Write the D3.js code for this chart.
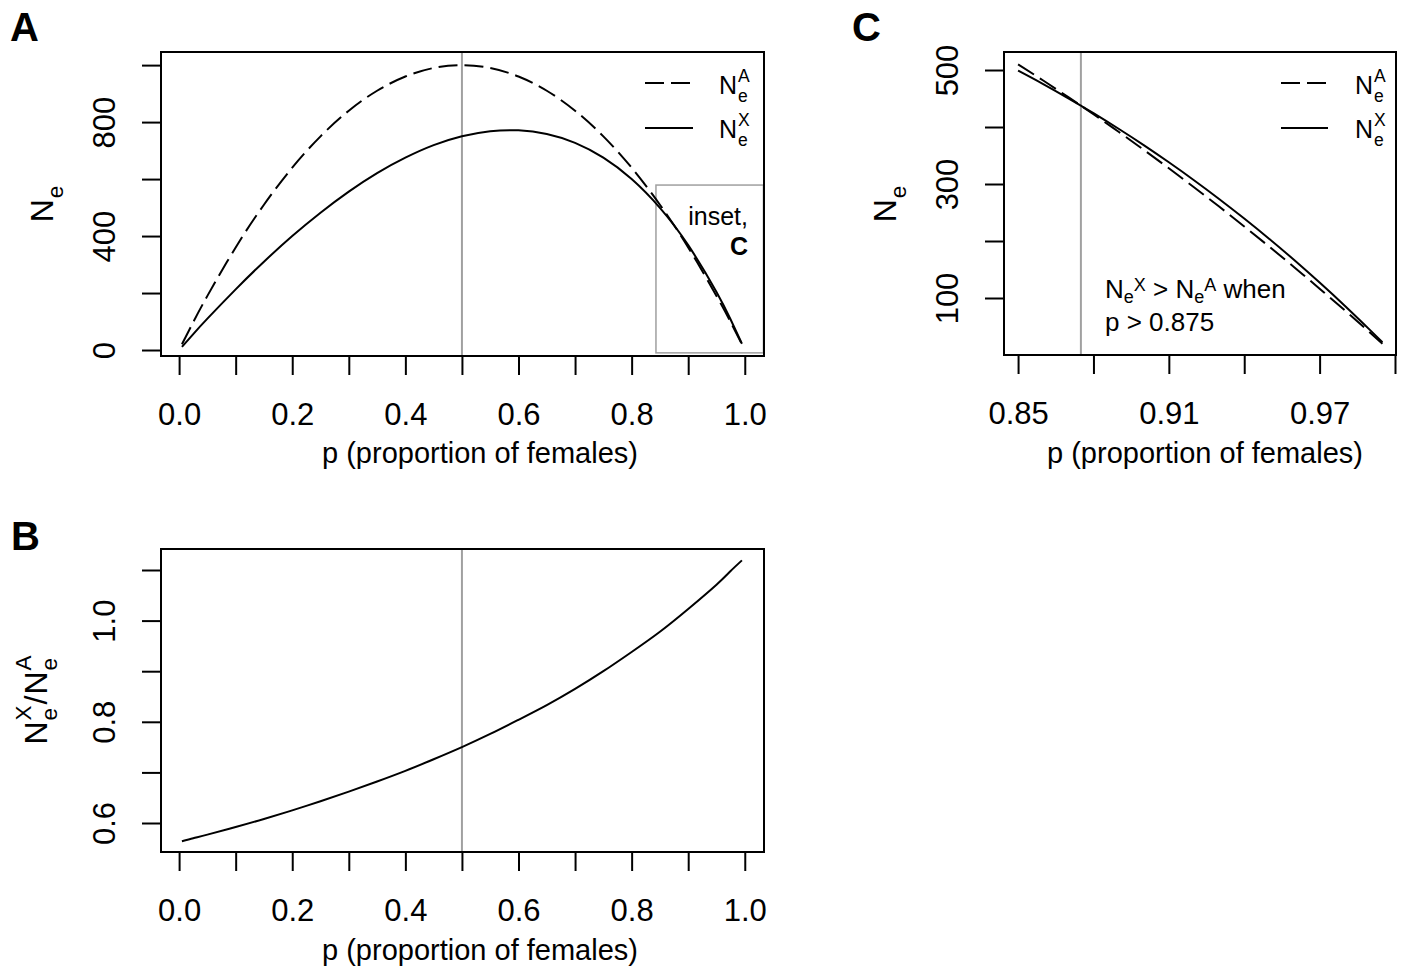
<!DOCTYPE html>
<html>
<head>
<meta charset="utf-8">
<script src="https://cdn.jsdelivr.net/npm/d3@7"></script>
<style>
  body { margin: 0; background: #fff; }
  svg { display: block; font-family: "Liberation Sans", Arial, Helvetica, sans-serif; }
</style>
</head>
<body>
<svg id="chart" width="1401" height="968"></svg>
<script>
const pFull = [0.005, 0.025, 0.05, 0.1, 0.15, 0.2, 0.25, 0.3, 0.35, 0.4, 0.45, 0.5, 0.55, 0.6, 0.65, 0.7, 0.75, 0.8, 0.85, 0.9, 0.95, 0.975, 0.995];
const neAuto = [20, 98, 190, 360, 510, 640, 750, 840, 910, 960, 990, 1000, 990, 960, 910, 840, 750, 640, 510, 360, 190, 98, 20];
const neX = [11, 56, 110, 213, 310, 400, 482, 556, 621, 675, 719, 750, 768, 771, 758, 727, 675, 600, 499, 368, 204, 107, 22];
const ratioXA = [0.564, 0.570, 0.577, 0.592, 0.608, 0.625, 0.643, 0.662, 0.682, 0.703, 0.726, 0.750, 0.776, 0.804, 0.833, 0.865, 0.900, 0.938, 0.978, 1.023, 1.071, 1.098, 1.119];

// panel C (zoomed in on the high p end)
const pInset = [0.85, 0.86, 0.87, 0.875, 0.88, 0.89, 0.90, 0.91, 0.92, 0.93, 0.94, 0.95, 0.96, 0.97, 0.98, 0.99, 0.995];
const neAutoInset = [510, 481.6, 452.4, 437.5, 422.4, 391.6, 360, 327.6, 294.4, 260.4, 225.6, 190, 153.6, 116.4, 78.4, 39.6, 19.9];
const neXInset = [498.9, 475.3, 450.4, 437.5, 424.3, 396.9, 368.2, 338.1, 306.7, 273.8, 239.4, 203.6, 166.2, 127.1, 86.5, 44.1, 22.3];

// ticks and labelled ticks
const xTicksA = [0, 0.1, 0.2, 0.3, 0.4, 0.5, 0.6, 0.7, 0.8, 0.9, 1.0];
const xLabelsA = [0, 0.2, 0.4, 0.6, 0.8, 1.0];
const yTicksA = [0, 200, 400, 600, 800, 1000];
const yLabelsA = [0, 400, 800];
const yTicksB = [0.6, 0.7, 0.8, 0.9, 1.0, 1.1];
const yLabelsB = [0.6, 0.8, 1.0];
const xTicksC = [0.85, 0.88, 0.91, 0.94, 0.97, 1.0];
const xLabelsC = [0.85, 0.91, 0.97];
const yTicksC = [100, 200, 300, 400, 500];
const yLabelsC = [100, 300, 500];

const refP = 0.5;
const crossP = 0.875;
const insetP = [0.843, 1.033];
const insetNe = [-10, 579];

const svg = d3.select("#chart");
const GRAY = "#a0a0a0";

const has = (arr, d) => arr.some(v => Math.abs(v - d) < 1e-9);

function makePanel(box, xDom, yDom) {
    const x = d3.scaleLinear().domain(xDom).range([box.left, box.right]);
    const y = d3.scaleLinear().domain(yDom).range([box.bottom, box.top]);
    return { box, x, y };
}

function drawAxes(pn, xt, xl, xf, yt, yl, yf) {
    const { box, x, y } = pn;
    const gx = svg.append("g")
        .attr("transform", `translate(0,${box.bottom})`)
        .call(d3.axisBottom(x).tickValues(xt).tickSize(19).tickSizeOuter(0)
            .tickFormat(d => has(xl, d) ? xf(d) : ""));
    gx.attr("font-family", null).attr("font-size", 31);
    gx.select(".domain").remove();
    gx.selectAll("line").attr("stroke", "#000").attr("stroke-width", 2);
    gx.selectAll("text").attr("y", 69).attr("dy", null).attr("fill", "#000");

    const gy = svg.append("g")
        .attr("transform", `translate(${box.left},0)`)
        .call(d3.axisLeft(y).tickValues(yt).tickSize(19).tickSizeOuter(0)
            .tickFormat(d => has(yl, d) ? yf(d) : ""));
    gy.attr("font-family", null).attr("font-size", 31);
    gy.select(".domain").remove();
    gy.selectAll("line").attr("stroke", "#000").attr("stroke-width", 2);
    gy.selectAll("text")
        .attr("x", null).attr("dy", null)
        .attr("text-anchor", "middle")
        .attr("fill", "#000")
        .attr("transform", "translate(-46,0) rotate(-90)");
}

function drawBox(pn) {
    const b = pn.box;
    svg.append("rect")
        .attr("x", b.left).attr("y", b.top)
        .attr("width", b.right - b.left).attr("height", b.bottom - b.top)
        .attr("fill", "none").attr("stroke", "#000").attr("stroke-width", 2);
}

function refLine(pn, p) {
    svg.append("line")
        .attr("x1", pn.x(p)).attr("x2", pn.x(p))
        .attr("y1", pn.box.top).attr("y2", pn.box.bottom)
        .attr("stroke", GRAY).attr("stroke-width", 2);
}

function curve(pn, ps, vs, dashed) {
    const line = d3.line()
        .x(i => pn.x(ps[i]))
        .y(i => pn.y(vs[i]))
        .curve(d3.curveNatural);
    svg.append("path")
        .attr("d", line(d3.range(ps.length)))
        .attr("fill", "none")
        .attr("stroke", "#000")
        .attr("stroke-width", 2)
        .attr("stroke-dasharray", dashed ? "19,7" : null);
}

// N with stacked subscript / superscript, returns right end
function stackedN(g, x, y, sub, sup, size) {
    const t = g.append("text").attr("x", x).attr("y", y).attr("font-size", size).text("N");
    const w = t.node().getComputedTextLength();
    const s = size * 0.7;
    let w2 = 0;
    if (sub) {
        const a = g.append("text").attr("x", x + w + 1).attr("y", y + size * 0.3).attr("font-size", s).text(sub);
        w2 = Math.max(w2, a.node().getComputedTextLength());
    }
    if (sup) {
        const b = g.append("text").attr("x", x + w + 1).attr("y", y - size * 0.5).attr("font-size", s).text(sup);
        w2 = Math.max(w2, b.node().getComputedTextLength());
    }
    return x + w + 1 + w2;
}

function legend(x0, x1, tx, yDash, ySolid) {
    svg.append("line").attr("x1", x0).attr("x2", x1).attr("y1", yDash).attr("y2", yDash)
        .attr("stroke", "#000").attr("stroke-width", 2).attr("stroke-dasharray", "19,7");
    svg.append("line").attr("x1", x0).attr("x2", x1 + 1).attr("y1", ySolid).attr("y2", ySolid)
        .attr("stroke", "#000").attr("stroke-width", 2);
    stackedN(svg.append("g"), tx, yDash + 11, "e", "A", 25);
    stackedN(svg.append("g"), tx, ySolid + 10, "e", "X", 25);
}

function yTitle(cx, cy, build) {
    const outer = svg.append("g").attr("transform", `translate(${cx},${cy}) rotate(-90)`);
    const inner = outer.append("g");
    const end = build(inner);
    inner.attr("transform", `translate(${-end / 2},0)`);
}

function xTitle(cx, y) {
    svg.append("text").attr("x", cx).attr("y", y)
        .attr("text-anchor", "middle").attr("font-size", 29)
        .text("p (proportion of females)");
}

function letter(x, y, s) {
    svg.append("text").attr("x", x).attr("y", y)
        .attr("font-size", 40).attr("font-weight", "bold").text(s);
}

// ---- panel A ----
const A = makePanel({ left: 161, right: 764, top: 52, bottom: 356 }, [-0.032, 1.034], [-21, 1046]);
refLine(A, refP);
svg.append("rect")
    .attr("x", A.x(insetP[0])).attr("y", A.y(insetNe[1]))
    .attr("width", A.x(insetP[1]) - A.x(insetP[0]))
    .attr("height", A.y(insetNe[0]) - A.y(insetNe[1]))
    .attr("fill", "none").attr("stroke", GRAY).attr("stroke-width", 1.5);
curve(A, pFull, neAuto, true);
curve(A, pFull, neX, false);
drawBox(A);
drawAxes(A, xTicksA, xLabelsA, d3.format(".1f"), yTicksA, yLabelsA, d3.format("d"));
legend(645, 692, 719, 83, 128);
svg.append("text").attr("x", 748).attr("y", 225).attr("text-anchor", "end")
    .attr("font-size", 25).text("inset,");
svg.append("text").attr("x", 748).attr("y", 255).attr("text-anchor", "end")
    .attr("font-size", 25).attr("font-weight", "bold").text("C");
xTitle(480, 463);
yTitle(53, 204, g => stackedN(g, 0, 0, "e", null, 32));
letter(10, 41, "A");

// ---- panel B ----
const B = makePanel({ left: 161, right: 764, top: 549, bottom: 852 }, [-0.032, 1.034], [0.5427, 1.1415]);
refLine(B, refP);
curve(B, pFull, ratioXA, false);
drawBox(B);
drawAxes(B, xTicksA, xLabelsA, d3.format(".1f"), yTicksB, yLabelsB, d3.format(".1f"));
xTitle(480, 960);
yTitle(47, 700, g => {
    let e = stackedN(g, 0, 0, "e", "X", 32);
    const sl = g.append("text").attr("x", e + 1).attr("y", 0).attr("font-size", 32).text("/");
    e = e + 1 + sl.node().getComputedTextLength() + 1;
    return stackedN(g, e, 0, "e", "A", 32);
});
letter(11, 550, "B");

// ---- panel C ----
const C = makePanel({ left: 1004, right: 1396, top: 52, bottom: 355 }, [0.8444, 1.0004], [0, 531.6]);
refLine(C, crossP);
curve(C, pInset, neAutoInset, true);
curve(C, pInset, neXInset, false);
drawBox(C);
drawAxes(C, xTicksC, xLabelsC, d3.format(".2f"), yTicksC, yLabelsC, d3.format("d"));
legend(1281, 1327, 1355, 83, 128);

const note = svg.append("text").attr("x", 1105).attr("y", 298).attr("font-size", 26);
note.append("tspan").text("N");
note.append("tspan").attr("font-size", 18).attr("dy", 5).text("e");
note.append("tspan").attr("font-size", 18).attr("dy", -12).text("X");
note.append("tspan").attr("dy", 7).text(" > N");
note.append("tspan").attr("font-size", 18).attr("dy", 5).text("e");
note.append("tspan").attr("font-size", 18).attr("dy", -12).text("A");
note.append("tspan").attr("dy", 7).text(" when");
svg.append("text").attr("x", 1105).attr("y", 331).attr("font-size", 26).text("p > 0.875");

xTitle(1205, 463);
yTitle(896, 204, g => stackedN(g, 0, 0, "e", null, 32));
letter(852, 41, "C");
</script>
</body>
</html>
